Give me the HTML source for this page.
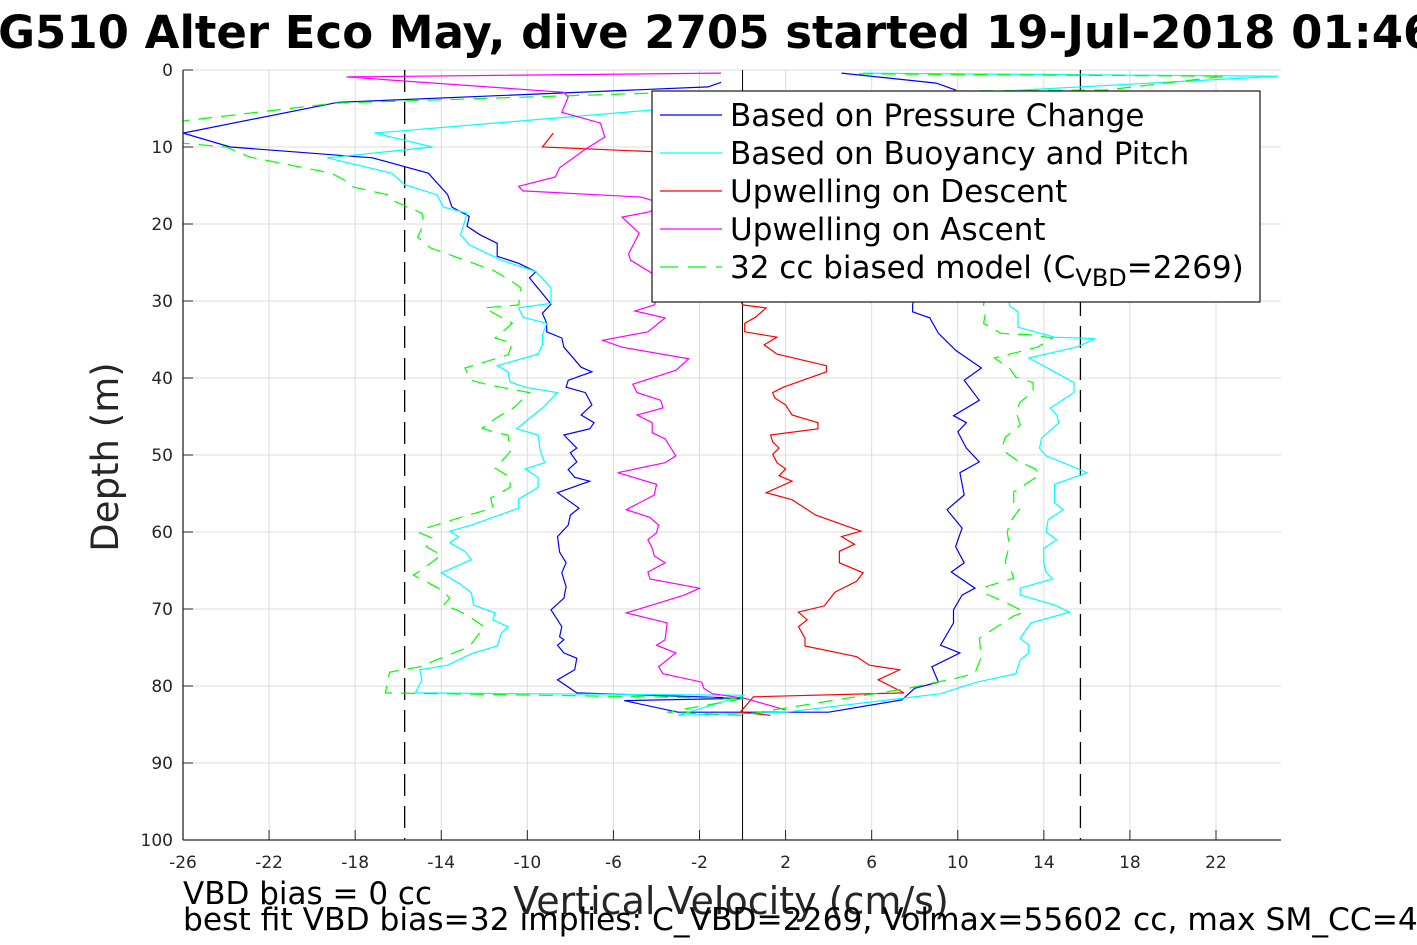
<!DOCTYPE html>
<html><head><meta charset="utf-8">
<style>
html,body{margin:0;padding:0;background:#fff;}
svg{display:block;font-family:"DejaVu Sans","Liberation Sans",sans-serif;}
</style></head>
<body>
<svg id="chart" width="1417" height="945" viewBox="0 0 1417 945" xmlns="http://www.w3.org/2000/svg">
<defs><clipPath id="plotclip"><rect x="183" y="70" width="1098" height="770"/></clipPath></defs>
<rect x="0" y="0" width="1417" height="945" fill="#fff"/>
<text x="700" y="48" text-anchor="middle" font-size="45" font-weight="bold" fill="#000">SG510 Alter Eco May, dive 2705 started 19-Jul-2018 01:46</text>
<g id="grid"></g>
<g id="refs"></g>
<g id="series" clip-path="url(#plotclip)"></g>
<g id="axes"></g>
<text x="731" y="914" text-anchor="middle" font-size="38" fill="#262626">Vertical Velocity (cm/s)</text>
<text transform="translate(118,457) rotate(-90)" text-anchor="middle" font-size="37" fill="#262626">Depth (m)</text>
<text x="183" y="904" font-size="31" fill="#000">VBD bias = 0 cc</text>
<text x="183" y="930" font-size="31.3" fill="#000">best fit VBD bias=32 implies: C_VBD=2269, Volmax=55602 cc, max SM_CC=4</text>
<g id="legend">
<rect x="652" y="91" width="608" height="211" fill="#fff" stroke="#262626" stroke-width="1.3"/>
</g>
</svg>
<script>
// axis ticks
const xTicks = [-26,-22,-18,-14,-10,-6,-2,2,6,10,14,18,22];
const yTicks = [0,10,20,30,40,50,60,70,80,90,100];
const vbdLimits = [-15.7, 15.7];
// series: [velocity cm/s, depth m]
const pressureSeries = [[-1.0,1.6],[-1.6,2.2],[-18.8,4.2],[-26.0,8.2],[-23.8,10.0],[-17.2,11.4],[-14.6,13.4],[-13.7,16.2],[-13.5,17.8],[-12.7,19.0],[-12.8,20.3],[-12.2,21.4],[-11.4,22.5],[-11.4,24.2],[-10.4,25.1],[-9.6,26.2],[-9.9,27.0],[-8.9,30.4],[-9.3,31.6],[-9.1,32.9],[-9.1,34.0],[-8.4,34.8],[-8.3,36.0],[-7.5,38.6],[-7.0,39.2],[-8.1,40.3],[-8.2,41.2],[-7.3,41.9],[-7.0,43.5],[-7.5,44.8],[-6.9,45.8],[-7.1,46.6],[-8.3,47.4],[-7.7,49.1],[-8.0,49.7],[-7.7,50.9],[-8.1,51.9],[-7.8,52.9],[-7.1,53.4],[-8.6,54.9],[-7.6,56.9],[-8.0,57.8],[-8.1,59.1],[-8.6,60.6],[-8.5,62.6],[-8.2,64.0],[-8.4,65.3],[-8.2,67.1],[-8.3,68.6],[-8.9,70.1],[-8.6,71.4],[-8.4,72.3],[-8.5,73.6],[-8.3,74.0],[-8.6,74.7],[-8.3,75.7],[-7.7,76.4],[-7.8,77.9],[-8.6,79.2],[-7.7,80.9],[0.1,81.6],[-5.5,81.9],[-3.0,83.4],[4.0,83.4],[7.4,81.8],[8.0,80.3],[9.1,79.5],[8.8,77.5],[10.1,75.7],[9.2,74.7],[9.8,71.8],[9.8,70.1],[10.2,68.2],[10.8,67.3],[9.7,65.2],[10.3,64.0],[9.9,61.9],[10.2,59.5],[9.5,57.1],[10.3,55.2],[10.1,52.3],[11.0,50.9],[10.4,49.1],[10.0,47.0],[10.4,45.8],[9.8,44.9],[11.0,42.9],[10.3,40.3],[11.1,38.7],[9.9,36.4],[9.1,34.2],[8.7,32.2],[7.9,31.4],[7.9,30.5],[8.7,20],[9.5,10],[9.9,2.6],[9.0,1.7],[4.6,0.4]];
const buoyancySeries = [[5.6,0.4],[24.9,0.8],[-4.2,5.2],[-17.1,8.2],[-14.4,10.0],[-19.3,11.4],[-16.3,13.4],[-15.7,14.9],[-14.2,16.2],[-13.9,17.8],[-12.8,18.6],[-13.1,21.4],[-12.7,22.7],[-11.2,24.7],[-10.0,25.8],[-9.6,26.2],[-8.9,28.3],[-8.9,30.3],[-10.4,30.9],[-10.2,32.1],[-9.1,32.9],[-9.3,34.4],[-9.3,35.7],[-9.5,36.9],[-11.4,38.4],[-10.9,39.2],[-10.8,40.5],[-10.1,41.2],[-8.6,41.9],[-9.3,43.9],[-10.5,46.6],[-9.5,47.4],[-9.4,49.4],[-9.2,51.0],[-10.1,51.8],[-9.5,52.9],[-9.5,54.2],[-9.9,54.9],[-10.4,55.7],[-10.4,56.9],[-12.6,59.1],[-13.6,59.9],[-13.2,60.6],[-13.6,61.4],[-12.9,62.5],[-12.6,63.6],[-14.0,65.3],[-13.1,66.8],[-12.6,67.9],[-12.5,69.5],[-11.5,70.5],[-11.6,71.4],[-10.9,72.3],[-11.2,73.1],[-11.4,74.8],[-12.6,75.8],[-13.7,77.3],[-15.0,77.9],[-14.9,79.2],[-15.2,80.9],[0.1,81.2],[-3.0,83.8],[2.0,83.4],[9.2,81.0],[10.9,79.5],[12.7,78.4],[12.9,76.6],[13.3,75.7],[13.3,74.7],[12.9,73.8],[13.4,71.8],[15.2,70.4],[14.5,69.5],[12.9,68.2],[12.9,67.3],[14.4,66.1],[14.1,65.2],[14.0,64.0],[14.0,62.1],[14.6,61.0],[14.1,60.0],[14.2,58.4],[14.9,57.1],[14.5,56.2],[14.5,53.8],[16.0,52.3],[14.9,51.0],[14.1,50.1],[13.8,49.1],[13.9,47.8],[14.7,45.8],[14.6,44.8],[14.3,43.9],[15.4,41.9],[15.4,40.6],[14.1,38.6],[13.3,37.4],[15.5,36.0],[16.4,34.9],[14.5,34.7],[12.8,33.4],[12.8,31.4],[12.4,30.6],[12.4,16.9]];
const descentUpwelling = [[-8.8,8.2],[-9.3,10.0],[-4.2,10.6],[-1.0,23.4],[0.0,30.5],[1.1,30.9],[0.6,32.1],[0.1,32.9],[0.1,34.0],[1.6,34.7],[1.0,35.7],[1.6,36.9],[3.9,38.4],[3.9,39.2],[1.9,41.2],[1.4,41.9],[1.5,42.6],[2.0,43.5],[2.3,44.8],[3.5,45.8],[3.5,46.6],[1.3,47.4],[1.4,48.3],[1.7,49.1],[1.4,49.9],[1.6,51.0],[2.0,51.8],[1.7,52.7],[2.3,53.4],[1.1,54.9],[2.3,55.8],[3.4,57.8],[5.5,59.9],[4.6,60.6],[5.2,61.6],[4.5,62.5],[4.5,64.0],[5.6,65.3],[5.3,66.4],[4.3,67.8],[3.8,69.6],[2.6,70.4],[3.0,71.4],[2.6,72.3],[2.9,73.8],[2.9,74.8],[5.3,76.2],[5.9,77.3],[7.3,77.9],[6.3,79.2],[7.5,80.9],[0.5,81.4],[-0.1,83.4],[1.3,83.8]];
const ascentUpwelling = [[-1.0,0.4],[-18.4,0.9],[-8.3,2.9],[-8.1,3.5],[-8.4,5.5],[-6.6,6.9],[-6.4,8.7],[-7.3,10.3],[-8.5,12.7],[-8.7,13.9],[-10.4,15.1],[-10.2,15.7],[-4.7,16.5],[-3.8,17.3],[-4.3,18.4],[-5.6,19.1],[-4.8,21.2],[-5.3,23.9],[-5.2,24.7],[-4.2,26.4],[-3.8,28.6],[-4.1,30.5],[-5.0,31.3],[-3.6,32.2],[-4.4,34.0],[-6.5,35.1],[-5.6,36.0],[-2.5,37.5],[-3.1,39.0],[-5.1,40.8],[-4.9,41.9],[-3.8,42.9],[-3.7,43.9],[-4.9,44.8],[-4.2,45.8],[-4.2,47.1],[-3.6,47.9],[-3.1,50.1],[-3.6,51.0],[-5.8,52.3],[-4.0,53.8],[-4.1,55.2],[-5.4,57.1],[-4.3,58.1],[-3.9,59.1],[-4.0,60.1],[-4.4,61.0],[-4.2,62.1],[-4.1,63.1],[-3.6,64.0],[-4.4,65.2],[-4.3,66.1],[-2.0,67.3],[-2.7,68.2],[-5.4,70.5],[-3.5,71.8],[-3.6,74.0],[-4.0,74.7],[-3.1,75.7],[-3.5,76.6],[-3.9,77.5],[-3.7,78.4],[-1.9,79.5],[-1.8,80.3],[-1.4,81.0],[0.1,81.6],[2.0,83.1]];
const biasedModel = [[5.4,0.5],[22.4,0.8],[16.9,2.6],[-4.2,3.0],[-18.9,4.3],[-27.5,7.1],[-26.0,9.5],[-24.0,10.0],[-22.9,11.3],[-19.1,13.4],[-18.5,14.3],[-18.1,15.2],[-16.5,16.2],[-16.3,16.9],[-14.9,18.6],[-14.8,19.9],[-15.1,21.7],[-14.5,23.1],[-11.6,26.0],[-10.8,27.3],[-10.3,28.3],[-10.4,30.5],[-12.0,30.9],[-10.7,32.9],[-11.5,34.8],[-10.7,35.5],[-10.9,37.0],[-12.9,38.7],[-12.6,40.3],[-11.8,40.9],[-9.9,41.9],[-10.6,43.8],[-11.4,45.1],[-12.1,46.5],[-11.5,47.1],[-10.9,47.4],[-10.8,49.6],[-11.5,51.7],[-10.8,52.9],[-10.8,54.2],[-11.7,55.6],[-11.6,56.9],[-13.1,58.1],[-14.7,59.5],[-15.0,60.1],[-14.4,60.8],[-14.7,61.9],[-14.0,63.0],[-14.9,64.9],[-15.3,65.6],[-14.6,66.6],[-14.0,67.5],[-13.6,68.6],[-13.9,69.5],[-13.3,70.1],[-12.8,70.8],[-12.0,72.3],[-12.7,74.9],[-15.0,77.5],[-16.4,78.2],[-16.6,80.9],[0.1,81.6],[-3.5,83.4],[-0.1,83.8],[7.7,80.3],[10.2,78.8],[10.8,78.3],[11.1,76.2],[11.0,73.8],[12.6,70.9],[13.1,70.4],[12.2,69.1],[11.2,67.9],[11.3,67.1],[12.6,66.0],[12.5,65.2],[12.2,63.9],[12.4,61.7],[12.3,60.1],[12.4,58.8],[12.9,56.9],[12.6,56.2],[12.6,54.8],[13.8,52.6],[13.6,51.8],[12.8,50.8],[12.2,49.6],[12.1,48.7],[12.2,47.7],[12.9,46.1],[12.7,44.3],[12.9,43.1],[13.5,41.8],[13.5,40.6],[12.7,39.9],[12.4,38.7],[11.7,37.4],[13.7,36.0],[14.4,34.8],[13.4,34.4],[12.0,34.2],[11.2,32.9],[11.3,31.4],[11.2,30.5],[12.0,16.9]];
const legendLabels = ["Based on Pressure Change","Based on Buoyancy and Pitch","Upwelling on Descent","Upwelling on Ascent","32 cc biased model (C"];

const NS = "http://www.w3.org/2000/svg";
const X0 = 183, X1 = 1281, Y0 = 70, Y1 = 840, XMIN = -26, XMAX = 25.02, YMIN = 0, YMAX = 100;
function xs(v){ return X0 + (v - XMIN) / (XMAX - XMIN) * (X1 - X0); }
function ys(d){ return Y0 + (d - YMIN) / (YMAX - YMIN) * (Y1 - Y0); }
function mk(tag, attrs, parent){ const e = document.createElementNS(NS, tag); for (const k in attrs) e.setAttribute(k, attrs[k]); parent.appendChild(e); return e; }

const grid = document.getElementById('grid');
xTicks.forEach(t => {
  const l = mk('line', {x1: xs(t), x2: xs(t), y1: Y0, y2: Y1, stroke: '#dcdcdc', 'stroke-width': 1}, grid);
  
  
});
yTicks.forEach(t => {
  const l = mk('line', {x1: X0, x2: X1, y1: ys(t), y2: ys(t), stroke: '#dcdcdc', 'stroke-width': 1}, grid);
  
  
});

const refs = document.getElementById('refs');
const zl = mk('line', {x1: xs(0), x2: xs(0), y1: Y0, y2: Y1, stroke: '#000', 'stroke-width': 1}, refs);


vbdLimits.forEach(v => {
  const l = mk('line', {x1: xs(v), x2: xs(v), y1: Y0, y2: Y1, stroke: '#000', 'stroke-width': 1.3, 'stroke-dasharray': '22,10'}, refs);
  
  
});

const series = document.getElementById('series');
const defs = [
  [pressureSeries, '#0000ff', null, 'pressure-change-line'],
  [buoyancySeries, '#00ffff', null, 'buoyancy-pitch-line'],
  [descentUpwelling, '#ff0000', null, 'upwelling-descent-line'],
  [ascentUpwelling, '#ff00ff', null, 'upwelling-ascent-line'],
  [biasedModel, '#00ff00', '14,9', 'biased-model-line']
];
defs.forEach(([data, color, dash, name]) => {
  const p = mk('polyline', {points: data.map(d => xs(d[0]).toFixed(1) + ',' + ys(d[1]).toFixed(1)).join(' '), fill: 'none', stroke: color, 'stroke-width': 1.2}, series);
  if (dash) p.setAttribute('stroke-dasharray', dash);
  
  
});

const axes = document.getElementById('axes');
const ya = mk('line', {x1: X0, x2: X0, y1: Y0, y2: Y1, stroke: '#262626', 'stroke-width': 1.3}, axes);


const xa = mk('line', {x1: X0, x2: X1, y1: Y1, y2: Y1, stroke: '#262626', 'stroke-width': 1.3}, axes);


xTicks.forEach(t => {
  const tk = mk('line', {x1: xs(t), x2: xs(t), y1: Y1, y2: Y1 - 10, stroke: '#262626', 'stroke-width': 1}, axes);
  
  
  const tx = mk('text', {x: xs(t), y: 868, 'text-anchor': 'middle', 'font-size': 17, fill: '#262626'}, axes);
  tx.textContent = String(t);
  
  
});
yTicks.forEach(t => {
  const tk = mk('line', {x1: X0, x2: X0 + 10, y1: ys(t), y2: ys(t), stroke: '#262626', 'stroke-width': 1}, axes);
  
  
  const tx = mk('text', {x: 173, y: ys(t) + 6, 'text-anchor': 'end', 'font-size': 17, fill: '#262626'}, axes);
  tx.textContent = String(t);
  
  
});

const legend = document.getElementById('legend');
defs.forEach((d, i) => {
  const y = 115 + i * 38;
  const l = mk('line', {x1: 660, x2: 722, y1: y, y2: y, stroke: d[1], 'stroke-width': 1.2}, legend);
  if (d[2]) l.setAttribute('stroke-dasharray', '18,10');
  
  
  const t = mk('text', {x: 730, y: y + 11, 'font-size': 31, fill: '#000'}, legend);
  t.textContent = legendLabels[i];
  if (i === 4) {
    const s1 = mk('tspan', {'font-size': 24, dy: 8}, t); s1.textContent = 'VBD';
    const s2 = mk('tspan', {dy: -8}, t); s2.textContent = '=2269)';
  }
  
  
});
</script>
</body></html>
